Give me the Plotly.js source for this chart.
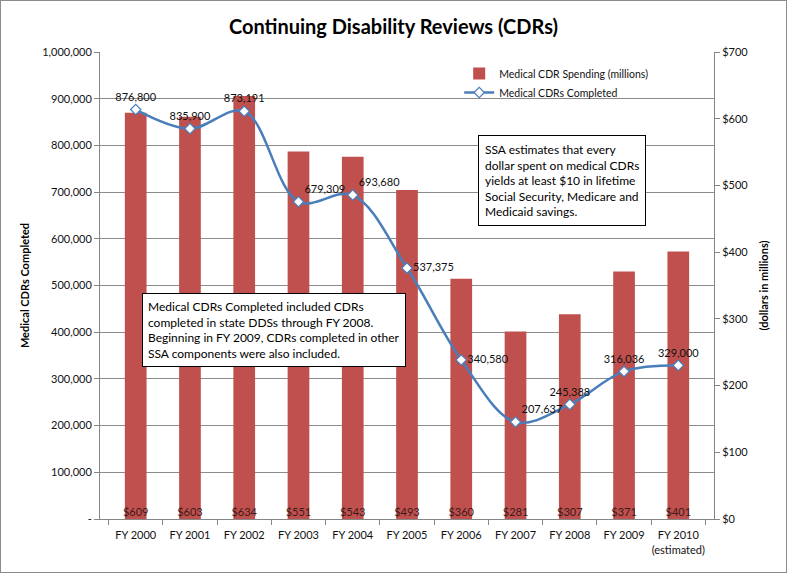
<!DOCTYPE html>
<html>
<head>
<meta charset="utf-8">
<script src="https://cdn.plot.ly/plotly-3.0.1.min.js"></script>
<style>
  html, body { margin: 0; padding: 0; background: #fff; }
  #wrap { width: 785px; height: 571px; border: 1px solid #8c8c8c; }
  #chart { width: 785px; height: 571px; }
</style>
</head>
<body>
<div id="wrap"><div id="chart"></div></div>
<script>
// ---- data ----
const categories = ["FY 2000", "FY 2001", "FY 2002", "FY 2003", "FY 2004", "FY 2005",
                    "FY 2006", "FY 2007", "FY 2008", "FY 2009", "FY 2010<br>(estimated)"];
const spending = [609, 603, 634, 551, 543, 493, 360, 281, 307, 371, 401];          // $ millions
const completed = [876800, 835900, 873191, 679309, 693680, 537375,
                   340580, 207637, 245388, 316036, 329000];
const leftTickVals = [0, 100000, 200000, 300000, 400000, 500000, 600000, 700000, 800000, 900000, 1000000];
const leftTickText = ["-", "100,000", "200,000", "300,000", "400,000", "500,000",
                      "600,000", "700,000", "800,000", "900,000", "1,000,000"];
const noteLeft = "Medical CDRs Completed included CDRs<br>completed in state DDSs through FY 2008.<br>Beginning in FY 2009, CDRs completed in other<br>SSA components were also included.";
const noteRight = "SSA estimates that every<br>dollar spent on medical CDRs<br>yields at least $10 in lifetime<br>Social Security, Medicare and<br>Medicaid savings.";

const FONT = "Lato, 'Open Sans', sans-serif";
const LEFT_MAX = 1000000, RIGHT_MAX = 700;
const fmt = v => v.toLocaleString("en-US");
const labelPos = ["top center", "top center", "top center", "top right", "top right", "middle right",
                  "middle right", "top right", "top center", "top center", "top center"];

// bars on the primary (right-hand, dollar) axis; line on the overlaying (left-hand, count) axis so it draws on top
const barTrace = {
  type: "bar",
  name: "Medical CDR Spending (millions)",
  x: categories,
  y: spending,
  yaxis: "y",
  marker: { color: "#C0504D" },
  width: 0.4,
  hoverinfo: "skip"
};

const barLabels = {
  type: "scatter",
  mode: "text",
  x: categories,
  y: spending.map(() => 0),
  text: spending.map(v => "$" + v),
  textposition: "top center",
  textfont: { family: FONT, size: 11, color: "#3b1a1a" },
  yaxis: "y",
  showlegend: false,
  hoverinfo: "skip"
};

const lineTrace = {
  type: "scatter",
  mode: "lines+markers+text",
  name: "Medical CDRs Completed",
  x: categories,
  y: completed,
  yaxis: "y2",
  line: { color: "#4A7EBB", width: 2.5, shape: "spline", smoothing: 1 },
  marker: { symbol: "diamond", size: 8, color: "#ffffff", line: { color: "#4A7EBB", width: 1.2 } },
  text: completed.map(fmt),
  textposition: labelPos,
  textfont: { family: FONT, size: 11, color: "#111" },
  cliponaxis: false
};

const layout = {
  width: 785,
  height: 571,
  margin: { l: 99, r: 72, t: 51, b: 53 },
  paper_bgcolor: "#fff",
  plot_bgcolor: "#fff",
  font: { family: FONT, size: 11, color: "#111" },
  title: {
    text: "<b>Continuing Disability Reviews (CDRs)</b>",
    font: { family: FONT, size: 20, color: "#000" },
    x: 0.5, xanchor: "center",
    y: 0.955, yanchor: "middle"
  },
  showlegend: true,
  legend: {
    x: 0.585, xanchor: "left",
    y: 0.985, yanchor: "top",
    bgcolor: "rgba(255,255,255,0)",
    font: { family: FONT, size: 10.5, color: "#111" },
    tracegroupgap: 0,
    traceorder: "normal"
  },
  bargap: 0.6,
  xaxis: {
    type: "category",
    showline: true, linecolor: "#868686", linewidth: 1,
    ticks: "outside", tickson: "boundaries", ticklen: 5, tickcolor: "#868686",
    ticklabelstandoff: 6,
    showgrid: false,
    tickangle: 0,
    tickfont: { family: FONT, size: 11, color: "#111" },
    fixedrange: true
  },
  yaxis: {
    side: "right",
    range: [0, RIGHT_MAX],
    dtick: 100,
    tickprefix: "$",
    showline: true, linecolor: "#868686", linewidth: 1,
    ticks: "outside", ticklen: 5, tickcolor: "#868686",
    showgrid: false, zeroline: false,
    // gridlines at the left-axis (count) tick positions, drawn behind the bars
    minor: {
      tickvals: leftTickVals.map(v => v * RIGHT_MAX / LEFT_MAX),
      showgrid: true, gridcolor: "#8c8c8c", gridwidth: 1, ticks: ""
    },
    tickfont: { family: FONT, size: 11, color: "#111" },
    title: { text: "<b>(dollars in millions)</b>", font: { family: FONT, size: 11, color: "#000" }, standoff: 12 }
  },
  yaxis2: {
    overlaying: "y",
    side: "left",
    range: [0, LEFT_MAX],
    tickvals: leftTickVals,
    ticktext: leftTickText,
    showline: true, linecolor: "#868686", linewidth: 1,
    ticks: "outside", ticklen: 5, tickcolor: "#868686",
    showgrid: false,
    zeroline: false,
    tickfont: { family: FONT, size: 11, color: "#111" },
    title: { text: "<b>Medical CDRs Completed</b>", font: { family: FONT, size: 11, color: "#000" }, standoff: 10 }
  },
  annotations: [
    {
      xref: "paper", yref: "paper",
      x: 0.0685, xanchor: "left",
      y: 0.484, yanchor: "top",
      text: noteLeft, align: "left", showarrow: false,
      font: { family: FONT, size: 12, color: "#000" },
      bgcolor: "#fff", bordercolor: "#000", borderwidth: 1, borderpad: 5
    },
    {
      xref: "paper", yref: "paper",
      x: 0.616, xanchor: "left",
      y: 0.822, yanchor: "top",
      text: noteRight, align: "left", showarrow: false,
      font: { family: FONT, size: 12, color: "#000" },
      bgcolor: "#fff", bordercolor: "#000", borderwidth: 1, borderpad: 6
    }
  ]
};

Plotly.newPlot("chart", [barTrace, barLabels, lineTrace], layout, { displayModeBar: false, staticPlot: true });
</script>
</body>
</html>
